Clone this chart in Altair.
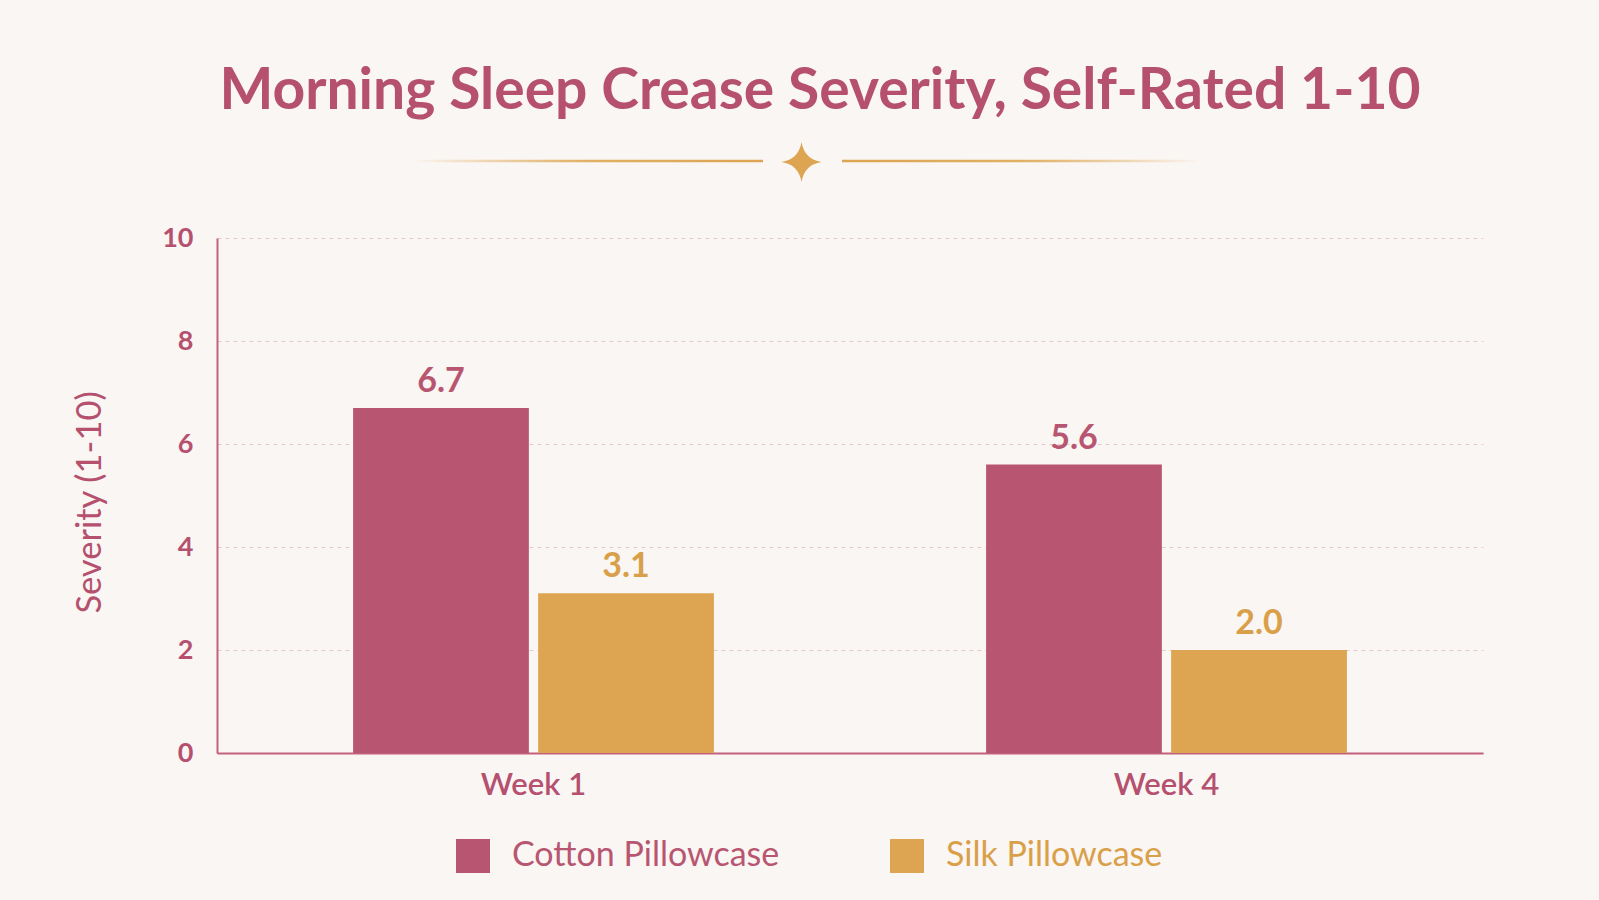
import altair as alt
import pandas as pd

# ---- data ----
weeks = ["Week 1", "Week 4"]
series = ["Cotton Pillowcase", "Silk Pillowcase"]
cotton = [6.7, 5.6]
silk = [3.1, 2.0]
y_ticks = [0, 2, 4, 6, 8, 10]
title_text = "Morning Sleep Crease Severity, Self-Rated 1-10"

# ---- styles ----
PINK = "#B5506F"
COTTON = "#B85671"
SILK = "#DDA452"
SILK_TXT = "#D9A049"
BG = "#FAF6F3"
FONT = "Lato"

rows = []
for i, w in enumerate(weeks):
    rows.append({"week": w, "series": series[0], "value": cotton[i]})
    rows.append({"week": w, "series": series[1], "value": silk[i]})
df = pd.DataFrame(rows)

W, H = 1266, 515

x_enc = alt.X(
    "week:N", sort=weeks, title=None,
    scale=alt.Scale(paddingInner=0.43, paddingOuter=0.215),
    axis=alt.Axis(labelFontSize=31, labelColor=PINK, labelFont=FONT, labelFontWeight=600,
                  labelPadding=17, ticks=False, domainColor="#C2607D", domainWidth=2,
                  labelAngle=0, grid=False),
)
xo_enc = alt.XOffset("series:N", sort=series,
                     scale=alt.Scale(paddingInner=0.05, paddingOuter=0))
y_enc = alt.Y(
    "value:Q", scale=alt.Scale(domain=[0, 10], nice=False),
    axis=alt.Axis(values=y_ticks, title="Severity (1-10)", titleFont=FONT, titleFontSize=34.5,
                  titleFontWeight="normal", titleColor=PINK, titleX=-127, titleY=264,
                  titleAngle=270, titleAlign="center", titleBaseline="middle",
                  labelFont=FONT, labelFontSize=27, labelFontWeight="bold", labelColor=PINK,
                  labelPadding=24, ticks=False, grid=True, gridDash=[4, 4],
                  gridColor="#E6C9CF", gridWidth=1, domainColor="#C2607D", domainWidth=2),
)
color_scale = alt.Scale(domain=series, range=[COTTON, SILK])

bars = alt.Chart(df).mark_bar(opacity=1).encode(
    x=x_enc, xOffset=xo_enc, y=y_enc,
    color=alt.Color(
        "series:N", sort=series, scale=color_scale,
        legend=alt.Legend(title=None, orient="none", legendX=239, legendY=601,
                          direction="horizontal", symbolType="square", symbolSize=1156,
                          symbolStrokeWidth=0, symbolOpacity=1, labelFont=FONT,
                          labelFontSize=34, labelOffset=22, labelLimit=0,
                          columnPadding=110, padding=0,
                          labelColor=alt.ExprRef(
                              f"datum.label == '{series[0]}' ? '{COTTON}' : '{SILK_TXT}'")),
    ),
)

labels = alt.Chart(df).mark_text(dy=-16, baseline="alphabetic", fontSize=34,
                                 fontWeight="bold", font=FONT).encode(
    x=x_enc, xOffset=xo_enc, y=y_enc,
    text=alt.Text("value:Q", format=".1f"),
    color=alt.Color("series:N", sort=series,
                    scale=alt.Scale(domain=series, range=[COTTON, SILK_TXT]), legend=None),
)

one = pd.DataFrame({"t": [title_text]})
title = alt.Chart(one).mark_text(align="center", baseline="alphabetic", fontSize=57,
                                 fontWeight="bold", font=FONT, color=PINK).encode(
    text="t:N", x=alt.value(603), y=alt.value(-129))

grad_left = {"gradient": "linear", "x1": 0, "x2": 1, "y1": 0, "y2": 0,
             "stops": [{"offset": 0, "color": "rgba(221,164,82,0)"},
                       {"offset": 0.5, "color": "#E0B064"},
                       {"offset": 1, "color": "#DDA452"}]}
grad_right = {"gradient": "linear", "x1": 0, "x2": 1, "y1": 0, "y2": 0,
              "stops": [{"offset": 0, "color": "#DDA452"},
                        {"offset": 0.5, "color": "#E0B064"},
                        {"offset": 1, "color": "rgba(221,164,82,0)"}]}
line_l = alt.Chart(one).mark_rect(fill=grad_left, strokeWidth=0).encode(
    x=alt.value(196), x2=alt.value(546), y=alt.value(-78.2), y2=alt.value(-75.8))
line_r = alt.Chart(one).mark_rect(fill=grad_right, strokeWidth=0).encode(
    x=alt.value(625), x2=alt.value(984), y=alt.value(-78.2), y2=alt.value(-75.8))
star_path = "M0,-1 Q0.14,-0.14 1,0 Q0.14,0.14 0,1 Q-0.14,0.14 -1,0 Q-0.14,-0.14 0,-1 Z"
star = alt.Chart(one).mark_point(shape=star_path, size=1600, filled=True, fill=SILK,
                                 opacity=1, strokeWidth=0).encode(
    x=alt.value(584.5), y=alt.value(-76))

chart = alt.layer(bars, labels, title, line_l, line_r, star).resolve_scale(
    color="independent").properties(
    width=W, height=H,
    padding={"left": 217, "top": 238, "right": 116, "bottom": 147},
    autosize=alt.AutoSizeParams(type="none"),
    background=BG,
).configure_view(stroke=None)

chart.save("out.html", embed_options={"renderer": "svg", "actions": False})
